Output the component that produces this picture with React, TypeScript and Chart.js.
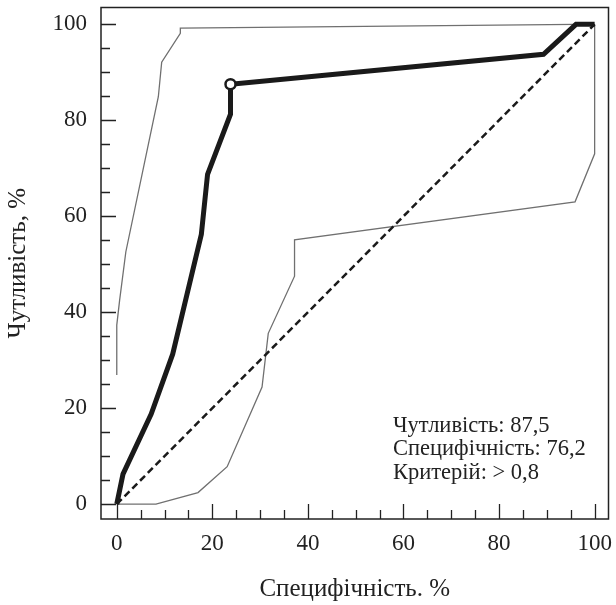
import React, { useEffect, useRef } from "react";
import { Chart, registerables } from "chart.js";

Chart.register(...registerables);

// ROC curve (100 - specificity, sensitivity)
const rocX = [0, 1.3, 7.2, 11.7, 17.7, 19.0, 23.8, 23.8, 89.3, 96.1, 100];
const rocY = [0, 6.25, 18.75, 31.25, 56.25, 68.75, 81.25, 87.5, 93.75, 100, 100];
// upper confidence bound
const upperX = [0, 0, 0.6, 1.9, 8.7, 9.4, 13.3, 13.3, 96, 100];
const upperY = [26.9, 37.3, 42.5, 52.6, 84.9, 92.1, 98.1, 99.2, 100, 100];
// lower confidence bound
const lowerX = [0, 8.2, 17.0, 23.1, 30.4, 31.7, 37.2, 37.2, 95.9, 100, 100];
const lowerY = [0, 0, 2.4, 7.8, 24.4, 35.6, 47.5, 55.1, 63.0, 73.0, 100];
// reference diagonal
const diagX = [0, 100];
const diagY = [0, 100];
// optimal cut-off point
const cutX = [23.8];
const cutY = [87.5];

const majorTicks = [0, 20, 40, 60, 80, 100];
const minorTicks = [5, 10, 15, 25, 30, 35, 45, 50, 55, 65, 70, 75, 85, 90, 95];
const annotationLines = ["Чутливість: 87,5", "Специфічність: 76,2", "Критерій: > 0,8"];
const xTitle = "Специфічність. %";
const yTitle = "Чутливість, %";

const pts = (xs: number[], ys: number[]) => xs.map((x, i) => ({ x, y: ys[i] }));

const FONT = "'Liberation Serif', serif";
const INK = "#222";

const framePlugin = {
  id: "frameTicks",
  afterDraw(chart: any) {
    const { ctx, chartArea, scales } = chart;
    const { left, right, top, bottom } = chartArea;
    ctx.save();
    ctx.strokeStyle = INK;
    ctx.lineWidth = 1.5;
    ctx.strokeRect(left, top, right - left, bottom - top);
    ctx.lineWidth = 1.3;
    ctx.beginPath();
    const drawTicks = (vals: number[], len: number) => {
      vals.forEach((v) => {
        const py = Math.round(scales.y.getPixelForValue(v)) + 0.5;
        ctx.moveTo(left, py);
        ctx.lineTo(left + len, py);
        const px = Math.round(scales.x.getPixelForValue(v)) + 0.5;
        ctx.moveTo(px, bottom);
        ctx.lineTo(px, bottom - len);
      });
    };
    drawTicks(majorTicks, 15);
    drawTicks(minorTicks, 9);
    ctx.stroke();

    // annotation text
    ctx.fillStyle = INK;
    ctx.font = `22.5px ${FONT}`;
    ctx.textAlign = "left";
    ctx.textBaseline = "alphabetic";
    const tx = scales.x.getPixelForValue(57.8);
    const ty = scales.y.getPixelForValue(15);
    annotationLines.forEach((t, i) => {
      ctx.fillText(t, tx, ty + i * 23.3);
    });
    ctx.restore();
  },
};

const noPad = (s: any) => {
  s.paddingLeft = 0;
  s.paddingRight = 0;
  s.paddingTop = 0;
  s.paddingBottom = 0;
};

export default function App() {
  const ref = useRef<HTMLCanvasElement | null>(null);
  useEffect(() => {
    if (!ref.current) return;
    const chart = new Chart(ref.current, {
      type: "scatter",
      data: {
        datasets: [
          {
            data: pts(cutX, cutY),
            showLine: false,
            pointRadius: 5,
            pointBackgroundColor: "#fff",
            pointBorderColor: "#1a1a1a",
            pointBorderWidth: 2.5,
          },
          {
            data: pts(rocX, rocY),
            showLine: true,
            borderColor: "#1a1a1a",
            borderWidth: 5,
            borderJoinStyle: "miter",
            pointRadius: 0,
          },
          {
            data: pts(diagX, diagY),
            showLine: true,
            borderColor: "#1a1a1a",
            borderWidth: 2.5,
            borderDash: [7, 4],
            pointRadius: 0,
          },
          {
            data: pts(upperX, upperY),
            showLine: true,
            borderColor: "#707070",
            borderWidth: 1.3,
            pointRadius: 0,
          },
          {
            data: pts(lowerX, lowerY),
            showLine: true,
            borderColor: "#707070",
            borderWidth: 1.3,
            pointRadius: 0,
          },
        ],
      },
      options: {
        animation: false,
        responsive: false,
        events: [],
        layout: { padding: { top: 7, right: 4, left: 0, bottom: 0 } },
        plugins: { legend: { display: false }, tooltip: { enabled: false } },
        scales: {
          x: {
            type: "linear",
            min: -3.3,
            max: 102.9,
            grid: { display: false, drawTicks: false },
            border: { display: false },
            afterBuildTicks: (s: any) => {
              s.ticks = majorTicks.map((v) => ({ value: v }));
            },
            afterFit: (s: any) => {
              s.height = 86;
              noPad(s);
            },
            ticks: {
              color: INK,
              font: { family: FONT, size: 23 },
              padding: 11,
              maxRotation: 0,
              autoSkip: false,
            },
            title: {
              display: true,
              text: xTitle,
              color: INK,
              font: { family: FONT, size: 25 },
              padding: { top: 0, bottom: 1 },
            },
          },
          y: {
            type: "linear",
            min: -3.1,
            max: 103.5,
            grid: { display: false, drawTicks: false },
            border: { display: false },
            afterBuildTicks: (s: any) => {
              s.ticks = majorTicks.map((v) => ({ value: v }));
            },
            afterFit: (s: any) => {
              s.width = 101;
              noPad(s);
            },
            ticks: {
              color: INK,
              font: { family: FONT, size: 23 },
              padding: 14,
              autoSkip: false,
            },
            title: {
              display: true,
              text: yTitle,
              color: INK,
              font: { family: FONT, size: 25 },
              padding: { top: 3, bottom: 0 },
            },
          },
        },
      },
      plugins: [framePlugin],
    });
    return () => chart.destroy();
  }, []);
  return (
    <div style={{ position: "absolute", left: 0, top: 0, width: 616, height: 605, background: "#fff" }}>
      <canvas ref={ref} width={616} height={605} style={{ width: 616, height: 605, display: "block" }} />
    </div>
  );
}
